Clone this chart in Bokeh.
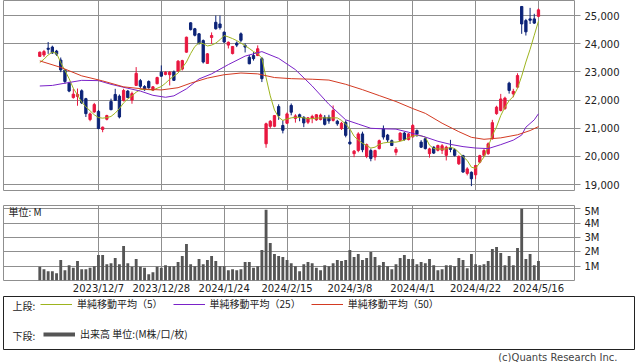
from bokeh.plotting import figure
from bokeh.models import (ColumnDataSource, Range1d, FixedTicker, NumeralTickFormatter,
                          Legend, LegendItem, Label, Title)
from bokeh.layouts import column
from bokeh.embed import file_html
from bokeh.resources import INLINE

# ---------------- data ----------------
opens = [23550, 23600, 23840, 23880, 23740, 23420, 23070, 22600, 22090, 22130,
         22330, 22050, 21310, 21580, 21600, 20960, 21320, 21950, 22200, 22140,
         21990, 22320, 22000, 22520, 22690, 22480, 22660, 22350, 22580, 22990,
         22910, 22900, 23000, 23030, 23100, 23700, 24740, 24530, 24350, 24110,
         23300, 24220, 24760, 24700, 24410, 23950, 23650, 24020, 24350, 23940,
         23520, 23580, 23580, 23470, 20450, 21070, 21070, 21770, 21100, 21180,
         21810, 21350, 21480, 21390, 21215, 21360, 21300, 21310, 21390, 21390,
         21280, 21250, 20990, 21210, 20510, 20100, 20210, 20800, 20000, 20210,
         19980, 20280, 20980, 20760, 20560, 20150, 20570, 20830, 20600, 20700,
         20920, 20510, 20630, 20100, 20330, 20220, 20220, 20040, 20290, 20240,
         19740, 20030, 19400, 19440, 19350, 19800, 20040, 20100, 20630, 21520,
         21630, 21700, 22600, 22220, 22460, 25320, 24820, 24880, 24880, 24970]
highs = [23720, 23780, 24060, 23930, 23780, 23510, 23100, 22650, 22400, 22410,
         22380, 22080, 21560, 21900, 21650, 21060, 21480, 22050, 22400, 22200,
         22400, 22360, 22300, 23170, 22750, 22530, 22700, 22500, 22830, 23230,
         23020, 23030, 23050, 23420, 23430, 24250, 24760, 24560, 24380, 24150,
         23670, 24400, 25000, 25000, 24430, 24080, 23920, 24080, 24400, 24010,
         23600, 23700, 23940, 23530, 21200, 21290, 21470, 21850, 21280, 21560,
         21880, 21500, 21520, 21430, 21400, 21480, 21500, 21520, 21470, 21480,
         21810, 21300, 21230, 21280, 20950, 20230, 20860, 20880, 20460, 20280,
         20240, 20600, 21100, 20800, 20600, 20330, 20860, 20870, 20830, 21150,
         20960, 20580, 20680, 20310, 20360, 20420, 20440, 20380, 20590, 20290,
         20040, 20060, 19620, 19470, 19700, 20060, 20270, 20500, 21300, 21800,
         22220, 22120, 22650, 22400, 22950, 25330, 24880, 25270, 25060, 25250]
lows = [23530, 23530, 23640, 23640, 23570, 22990, 22580, 22280, 22050, 21800,
        21860, 21400, 21250, 21550, 20970, 20860, 21280, 21640, 21970, 21350,
        21950, 22070, 21870, 22500, 22430, 22330, 22400, 22320, 22560, 22820,
        22880, 22520, 22680, 23000, 23050, 23680, 24470, 24260, 23980, 23300,
        23280, 23990, 24500, 24500, 24030, 23830, 23620, 23880, 24050, 23690,
        23270, 23400, 23560, 22640, 20310, 20990, 21040, 21300, 20820, 21150,
        21460, 21200, 21250, 21040, 21150, 21180, 21260, 21280, 21100, 21160,
        21240, 21090, 20940, 20680, 20420, 19975, 20150, 20150, 19940, 19830,
        19860, 20250, 20600, 20500, 20370, 20040, 20540, 20560, 20570, 20660,
        20700, 20300, 20250, 19960, 20090, 20180, 20090, 19860, 20150, 20000,
        19700, 19420, 19330, 18950, 19200, 19760, 20000, 20060, 20600, 21480,
        21600, 21650, 22230, 22100, 22420, 24350, 24290, 24700, 24700, 24940]
closes = [23700, 23720, 23800, 23670, 23630, 23070, 22660, 22320, 22210, 22200,
          21900, 21520, 21510, 21840, 20990, 21040, 21450, 21660, 21990, 21400,
          22340, 22090, 22230, 22950, 22490, 22370, 22440, 22470, 22800, 22850,
          22990, 22990, 22700, 23380, 23400, 24230, 24500, 24300, 24000, 23350,
          23640, 24290, 24530, 24570, 24060, 24050, 23900, 23950, 24120, 23880,
          23290, 23470, 23820, 22760, 21160, 21250, 21450, 21450, 20930, 21510,
          21570, 21440, 21400, 21190, 21370, 21420, 21480, 21470, 21140, 21260,
          21630, 21160, 21180, 20750, 20450, 20190, 20800, 20240, 20420, 19930,
          20210, 20560, 20690, 20590, 20390, 20250, 20830, 20600, 20800, 21100,
          20800, 20330, 20280, 20270, 20120, 20390, 20380, 20330, 20250, 20040,
          20000, 19450, 19560, 19210, 19680, 20030, 20210, 20450, 21200, 21750,
          22040, 22070, 22340, 22310, 22870, 24700, 24420, 24830, 24730, 25200]
volume_m = [0.96, 0.79, 0.65, 0.65, 0.51, 1.43, 0.72, 1.07, 0.89, 1.36,
            0.79, 0.79, 0.89, 1.00, 1.78, 1.78, 1.14, 1.21, 1.57, 1.14,
            2.41, 1.21, 0.96, 1.50, 0.96, 0.89, 0.44, 0.58, 0.96, 0.89,
            1.07, 1.00, 1.00, 1.29, 1.71, 2.55, 1.14, 1.00, 1.50, 1.14,
            1.43, 1.71, 1.36, 1.00, 1.00, 0.72, 0.79, 0.72, 0.79, 1.29,
            1.29, 0.89, 1.00, 2.13, 4.93, 2.62, 1.85, 1.71, 1.64, 1.43,
            1.21, 1.00, 0.65, 1.14, 1.29, 1.21, 0.89, 0.72, 1.07, 1.00,
            1.21, 1.43, 1.36, 1.43, 2.13, 1.64, 1.85, 1.43, 1.57, 1.99,
            1.64, 1.07, 1.29, 1.00, 0.79, 1.14, 1.57, 1.78, 1.50, 1.50,
            1.14, 1.29, 1.21, 1.50, 1.07, 0.72, 0.79, 1.07, 1.07, 1.00,
            1.57, 1.43, 0.86, 1.85, 1.14, 1.07, 1.14, 1.36, 2.20, 2.34,
            1.92, 1.07, 1.71, 1.07, 2.27, 5.00, 1.50, 1.85, 1.07, 1.36]
ma5 = [23330, 23450, 23600, 23700, 23660, 23330, 23050, 22760, 22420, 22180,
       21930, 21760, 21620, 21480, 21380, 21360, 21380, 21420, 21540, 21700,
       21900, 22040, 22150, 22280, 22370, 22380, 22370, 22360, 22420, 22480,
       22600, 22740, 22850, 22960, 23150, 23350, 23650, 23900, 24030, 24000,
       23920, 23950, 24020, 24140, 24290, 24240, 24180, 24110, 24020, 23930,
       23830, 23720, 23650, 23480, 22800, 22150, 21650, 21390, 21280, 21330,
       21370, 21390, 21390, 21370, 21340, 21340, 21360, 21370, 21370, 21370,
       21370, 21370, 21280, 21150, 20980, 20720, 20580, 20470, 20390, 20300,
       20330, 20430, 20480, 20500, 20510, 20510, 20540, 20580, 20670, 20720,
       20750, 20730, 20690, 20400, 20280, 20270, 20260, 20270, 20330, 20280,
       20150, 19990, 19860, 19620, 19580, 19780, 19980, 20350, 20750, 21050,
       21450, 21750, 21980, 22130, 22420, 22850, 23350, 23800, 24300, 24800]
ma25_day = [0, 3, 6, 10, 14, 17, 21, 24, 27, 30, 32, 35, 38, 41, 45, 49, 53, 57, 61,
            65, 69, 73, 76, 79, 82, 85, 88, 92, 95, 98, 101, 104, 107, 110, 113,
            115, 116, 118, 119]
ma25 = [22500, 22520, 22600, 22700, 22690, 22560, 22420, 22320, 22170, 22100, 22150,
        22400, 22750, 22930, 23260, 23560, 23720, 23480, 23080, 22500, 21850, 21300,
        21150, 21000, 20980, 20970, 20860, 20690, 20540, 20430, 20350, 20300, 20280,
        20420, 20580, 20760, 21040, 21300, 21515]
ma50_day = [0, 5, 10, 15, 20, 25, 29, 33, 36, 40, 44, 48, 52, 56, 60, 65, 69, 73, 77,
            81, 85, 89, 92, 96, 100, 103, 106, 110, 114, 117, 119]
ma50 = [23390, 23160, 22860, 22680, 22470, 22390, 22360, 22440, 22600, 22780, 22900,
        22960, 22930, 22800, 22760, 22740, 22710, 22560, 22370, 22160, 21950, 21700,
        21530, 21180, 20880, 20680, 20610, 20660, 20770, 20920, 21060]

date_tick_days = [14, 29, 44, 59, 74, 89, 104, 119]
date_tick_labels = ["2023/12/7", "2023/12/28", "2024/1/24", "2024/2/15",
                    "2024/3/8", "2024/4/1", "2024/4/22", "2024/5/16"]
price_ticks = [19000, 20000, 21000, 22000, 23000, 24000, 25000]
volume_ticks = [1, 2, 3, 4, 5]
volume_tick_labels = ["1M", "2M", "3M", "4M", "5M"]

# ---------------- styles ----------------
UP = "#e8173f"
DOWN = "#0c2377"
C_MA5 = "#9db41e"
C_MA25 = "#7a22c8"
C_MA50 = "#d33a22"
GRID = "#8f8f8f"
VOL = "#555555"
TXT = "#222222"
FONT = "DejaVu Sans"
JFONT = "Noto Sans CJK JP"

days = list(range(len(closes)))
src = ColumnDataSource(dict(
    day=days, high=highs, low=lows,
    top=[max(o, c) for o, c in zip(opens, closes)],
    bottom=[min(o, c) for o, c in zip(opens, closes)],
    color=[UP if c >= o else DOWN for o, c in zip(opens, closes)],
))

xr = Range1d(-8.66, 127.6)

# ---------------- price panel ----------------
p = figure(frame_width=571, frame_height=190, x_range=xr, y_range=Range1d(18794, 25532),
           x_axis_location=None, y_axis_location="right", toolbar_location=None,
           output_backend="svg", min_border_left=3, min_border_right=64,
           min_border_top=0, min_border_bottom=15)
p.xgrid.ticker = FixedTicker(ticks=date_tick_days)
p.ygrid.ticker = FixedTicker(ticks=price_ticks)
for g in (p.xgrid, p.ygrid):
    g.grid_line_color = GRID
p.outline_line_color = GRID
ax = p.yaxis[0]
ax.ticker = FixedTicker(ticks=price_ticks)
ax.formatter = NumeralTickFormatter(format="0,0")
ax.axis_line_color = None
ax.major_tick_in = 0
ax.major_tick_out = 6
ax.major_tick_line_color = GRID
ax.minor_tick_line_color = None
ax.major_label_standoff = 4
ax.major_label_text_font = FONT
ax.major_label_text_font_size = "10px"
ax.major_label_text_color = TXT

p.segment(x0="day", y0="low", x1="day", y1="high", line_color="color", line_width=1, source=src)
p.vbar(x="day", width=0.55, top="top", bottom="bottom", fill_color="color",
       line_color="color", line_width=1, source=src)
p.line(days, ma5, line_color=C_MA5, line_width=1)
p.line(ma25_day, ma25, line_color=C_MA25, line_width=1)
p.line(ma50_day, ma50, line_color=C_MA50, line_width=1)

# ---------------- volume panel ----------------
v = figure(frame_width=571, frame_height=75, x_range=xr, y_range=Range1d(0, 5.23),
           y_axis_location="right", toolbar_location=None, output_backend="svg",
           min_border_left=3, min_border_right=64, min_border_top=0, min_border_bottom=13)
v.xgrid.ticker = FixedTicker(ticks=date_tick_days)
v.ygrid.ticker = FixedTicker(ticks=volume_ticks)
for g in (v.xgrid, v.ygrid):
    g.grid_line_color = GRID
v.outline_line_color = GRID
vx = v.xaxis[0]
vx.ticker = FixedTicker(ticks=date_tick_days)
vx.major_label_overrides = {d: s for d, s in zip(date_tick_days, date_tick_labels)}
vx.axis_line_color = None
vx.major_tick_in = 0
vx.major_tick_out = 0
vx.minor_tick_line_color = None
vx.major_label_standoff = 2
vx.major_label_text_font = FONT
vx.major_label_text_font_size = "10px"
vx.major_label_text_color = TXT
vy = v.yaxis[0]
vy.ticker = FixedTicker(ticks=volume_ticks)
vy.major_label_overrides = {t: s for t, s in zip(volume_ticks, volume_tick_labels)}
vy.axis_line_color = None
vy.major_tick_in = 0
vy.major_tick_out = 6
vy.major_tick_line_color = GRID
vy.minor_tick_line_color = None
vy.major_label_standoff = 4
vy.major_label_text_font = FONT
vy.major_label_text_font_size = "10px"
vy.major_label_text_color = TXT

v.vbar(x=days, top=volume_m, width=0.68, fill_color=VOL, line_color=None)
v.add_layout(Label(x=5, y=69, x_units="screen", y_units="screen", text="単位: M",
                   text_font=JFONT, text_font_size="10px", text_color=TXT,
                   text_baseline="middle"))

# ---------------- legend panel ----------------
lf = figure(frame_width=631, frame_height=53, x_range=Range1d(0, 1), y_range=Range1d(0, 1),
            x_axis_location=None, y_axis_location=None, toolbar_location=None,
            output_backend="svg", min_border_left=3, min_border_right=4,
            min_border_top=0, min_border_bottom=0)
lf.grid.visible = False
lf.outline_line_color = "#222222"
# legend-only renderers (their points lie outside the visible range)
off = [5, 6]
r5 = lf.line(x=off, y=off, line_color=C_MA5, line_width=1)
r25 = lf.line(x=off, y=off, line_color=C_MA25, line_width=1)
r50 = lf.line(x=off, y=off, line_color=C_MA50, line_width=1)
rv = lf.line(x=off, y=off, line_color=VOL, line_width=4)

common = dict(orientation="horizontal", padding=0, margin=0, spacing=10,
              glyph_width=32, glyph_height=12, label_height=12, label_standoff=5,
              label_text_font=JFONT, label_text_font_size="10px", label_text_color=TXT,
              background_fill_alpha=0, border_line_alpha=0)
leg1 = Legend(items=[LegendItem(label="単純移動平均（5）", renderers=[r5]),
                     LegendItem(label="単純移動平均（25）", renderers=[r25]),
                     LegendItem(label="単純移動平均（50）", renderers=[r50])],
              location=(37, 38), **common)
leg2 = Legend(items=[LegendItem(label="出来高 単位:(M株/口/枚)", renderers=[rv])],
              location=(40, 8), **common)
lf.add_layout(leg1)
lf.add_layout(leg2)
lf.add_layout(Label(x=9, y=44, x_units="screen", y_units="screen", text="上段:",
                    text_font=JFONT, text_font_size="10px", text_color=TXT,
                    text_baseline="middle"))
lf.add_layout(Label(x=9, y=14, x_units="screen", y_units="screen", text="下段:",
                    text_font=JFONT, text_font_size="10px", text_color=TXT,
                    text_baseline="middle"))
lf.add_layout(Title(text="(c)Quants Research Inc.", align="right", offset=17, standoff=1,
                    text_font=FONT, text_font_size="10px", text_font_style="normal",
                    text_color="#444444"), "below")

layout = column(p, v, lf)
open("out.html", "w").write(file_html(layout, INLINE))
